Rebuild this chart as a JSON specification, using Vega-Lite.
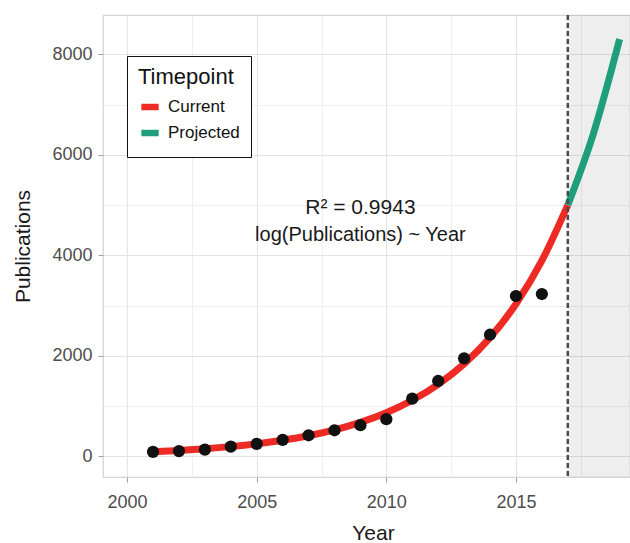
{
  "$schema": "https://vega.github.io/schema/vega-lite/v6.json",
  "width": 527,
  "height": 462,
  "autosize": {"type": "none"},
  "padding": {"left": 103, "top": 15, "right": 0, "bottom": 66},
  "config": {
    "view": {"stroke": "#d4d4d4", "strokeWidth": 1.2},
    "font": "Liberation Sans"
  },
  "datasets": {
    "shade": [{"Year": 2017, "YearEnd": 2019.4}],
    "vline": [{"Year": 2017}],
    "curve": [
      {"Year": 2001, "Publications": 92, "Timepoint": "Current"},
      {"Year": 2002, "Publications": 118, "Timepoint": "Current"},
      {"Year": 2003, "Publications": 151, "Timepoint": "Current"},
      {"Year": 2004, "Publications": 194, "Timepoint": "Current"},
      {"Year": 2005, "Publications": 249, "Timepoint": "Current"},
      {"Year": 2006, "Publications": 320, "Timepoint": "Current"},
      {"Year": 2007, "Publications": 410, "Timepoint": "Current"},
      {"Year": 2008, "Publications": 527, "Timepoint": "Current"},
      {"Year": 2009, "Publications": 677, "Timepoint": "Current"},
      {"Year": 2010, "Publications": 869, "Timepoint": "Current"},
      {"Year": 2011, "Publications": 1116, "Timepoint": "Current"},
      {"Year": 2012, "Publications": 1433, "Timepoint": "Current"},
      {"Year": 2013, "Publications": 1839, "Timepoint": "Current"},
      {"Year": 2014, "Publications": 2362, "Timepoint": "Current"},
      {"Year": 2015, "Publications": 3033, "Timepoint": "Current"},
      {"Year": 2016, "Publications": 3894, "Timepoint": "Current"},
      {"Year": 2017, "Publications": 5000, "Timepoint": "Current"},
      {"Year": 2017, "Publications": 5000, "Timepoint": "Projected"},
      {"Year": 2018, "Publications": 6440, "Timepoint": "Projected"},
      {"Year": 2019, "Publications": 8300, "Timepoint": "Projected"}
    ],
    "pts": [
      {"Year": 2001, "Publications": 90},
      {"Year": 2002, "Publications": 105},
      {"Year": 2003, "Publications": 135},
      {"Year": 2004, "Publications": 195},
      {"Year": 2005, "Publications": 250},
      {"Year": 2006, "Publications": 330},
      {"Year": 2007, "Publications": 420},
      {"Year": 2008, "Publications": 520},
      {"Year": 2009, "Publications": 620},
      {"Year": 2010, "Publications": 740},
      {"Year": 2011, "Publications": 1150},
      {"Year": 2012, "Publications": 1500},
      {"Year": 2013, "Publications": 1950},
      {"Year": 2014, "Publications": 2420},
      {"Year": 2015, "Publications": 3190},
      {"Year": 2016, "Publications": 3230}
    ],
    "ann": [
      {"Year": 2009, "Publications": 4944, "label": "R² = 0.9943", "size": 21},
      {"Year": 2009, "Publications": 4408, "label": "log(Publications) ~ Year", "size": 20}
    ]
  },
  "layer": [
    {
      "data": {"name": "shade"},
      "mark": {"type": "rect", "fill": "#000000", "opacity": 0.065},
      "encoding": {
        "x": {"field": "Year", "type": "quantitative", "scale": {"domain": [1999.07, 2019.4], "nice": false, "zero": false}},
        "x2": {"field": "YearEnd"}
      }
    },
    {
      "data": {"name": "curve"},
      "mark": {"type": "line", "strokeWidth": 7, "interpolate": "monotone", "strokeCap": "butt"},
      "encoding": {
        "x": {
          "field": "Year", "type": "quantitative",
          "scale": {"domain": [1999.07, 2019.4], "nice": false, "zero": false},
          "axis": {
            "title": "Year",
            "values": [2000, 2002.5, 2005, 2007.5, 2010, 2012.5, 2015, 2017.5],
            "labelExpr": "datum.value % 5 === 0 ? format(datum.value, 'd') : ''",
            "domain": false,
            "grid": true,
            "gridColor": {"condition": {"test": "datum.value % 5 === 0", "value": "#e4e4e4"}, "value": "#efefef"},
            "gridWidth": 1.2,
            "ticks": true,
            "tickSize": 5,
            "tickColor": {"condition": {"test": "datum.value % 5 === 0", "value": "#a0a0a0"}, "value": "transparent"},
            "labelFontSize": 18,
            "labelColor": "#4d4d4d",
            "labelPadding": 11,
            "labelFlush": false,
            "titleFontSize": 21,
            "titleFontWeight": "normal",
            "titleColor": "#1a1a1a",
            "titleX": 270,
            "titleY": 56,
            "titleAlign": "center",
            "titleBaseline": "middle"
          }
        },
        "y": {
          "field": "Publications", "type": "quantitative",
          "scale": {"domain": [-410, 8781], "nice": false, "zero": false},
          "axis": {
            "title": "Publications",
            "values": [0, 1000, 2000, 3000, 4000, 5000, 6000, 7000, 8000],
            "labelExpr": "datum.value % 2000 === 0 ? format(datum.value, 'd') : ''",
            "domain": false,
            "grid": true,
            "gridColor": {"condition": {"test": "datum.value % 2000 === 0", "value": "#e4e4e4"}, "value": "#efefef"},
            "gridWidth": 1.2,
            "ticks": true,
            "tickSize": 5,
            "tickColor": {"condition": {"test": "datum.value % 2000 === 0", "value": "#a0a0a0"}, "value": "transparent"},
            "labelFontSize": 18,
            "labelColor": "#4d4d4d",
            "labelPadding": 6,
            "titleFontSize": 21,
            "titleFontWeight": "normal",
            "titleColor": "#1a1a1a",
            "titleX": -80,
            "titleY": 231,
            "titleAngle": -90,
            "titleAlign": "center",
            "titleBaseline": "middle"
          }
        },
        "color": {
          "field": "Timepoint", "type": "nominal",
          "scale": {"domain": ["Current", "Projected"], "range": ["#EE2A24", "#1F9E7C"]},
          "legend": {
            "orient": "none",
            "legendX": 24,
            "legendY": 41,
            "title": "Timepoint",
            "titleFontSize": 22,
            "titleFontWeight": "normal",
            "titleColor": "#111111",
            "titlePadding": 6,
            "labelFontSize": 17,
            "labelColor": "#111111",
            "labelOffset": 6,
            "rowPadding": 0,
            "symbolType": "stroke",
            "symbolSize": 300,
            "symbolStrokeWidth": 6.5,
            "strokeColor": "#111111",
            "fillColor": "#ffffff",
            "padding": 11,
            "cornerRadius": 0
          }
        }
      }
    },
    {
      "data": {"name": "vline"},
      "mark": {"type": "rule", "strokeDash": [5, 3], "strokeWidth": 2.5, "color": "#4a4a4a"},
      "encoding": {
        "x": {"field": "Year", "type": "quantitative", "scale": {"domain": [1999.07, 2019.4], "nice": false, "zero": false}}
      }
    },
    {
      "data": {"name": "pts"},
      "mark": {"type": "circle", "size": 150, "color": "#111111", "opacity": 1},
      "encoding": {
        "x": {"field": "Year", "type": "quantitative", "scale": {"domain": [1999.07, 2019.4], "nice": false, "zero": false}},
        "y": {"field": "Publications", "type": "quantitative", "scale": {"domain": [-410, 8781], "nice": false, "zero": false}}
      }
    },
    {
      "data": {"name": "ann"},
      "mark": {"type": "text", "color": "#1a1a1a", "align": "center", "baseline": "middle"},
      "encoding": {
        "x": {"field": "Year", "type": "quantitative", "scale": {"domain": [1999.07, 2019.4], "nice": false, "zero": false}},
        "y": {"field": "Publications", "type": "quantitative", "scale": {"domain": [-410, 8781], "nice": false, "zero": false}},
        "text": {"field": "label"},
        "size": {"field": "size", "type": "quantitative", "scale": null}
      }
    }
  ]
}
